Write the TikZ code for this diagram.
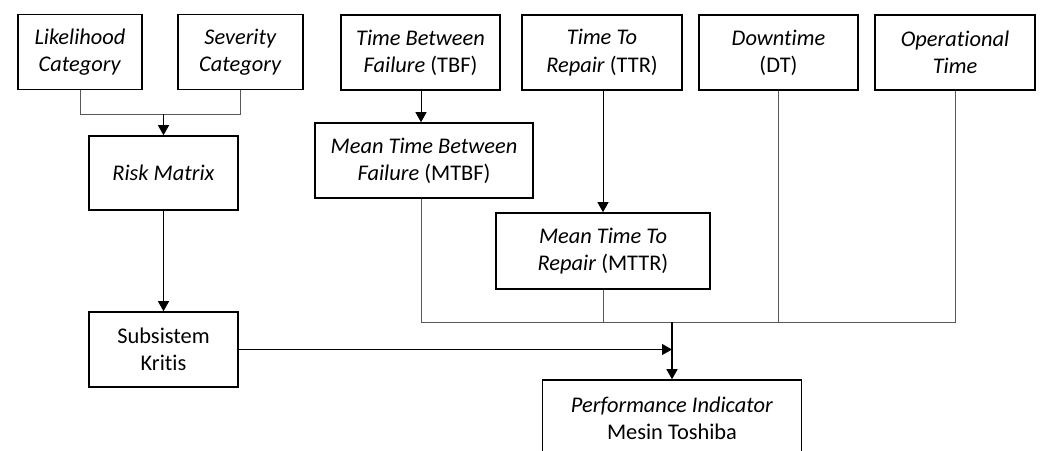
\documentclass[tikz,border=0pt]{standalone}
\usepackage{fontspec}
\setmainfont{Carlito}[Ligatures={NoCommon}]
\usetikzlibrary{arrows.meta}

\tikzset{
  blok/.style={draw, line width=0.8pt, align=center, inner sep=2pt, font=\fontsize{11.2}{13.6}\selectfont},
  garis/.style={draw=black!65, line width=0.5pt},
  panah/.style={garis, -{Triangle[width=5.5pt,length=5pt]}, draw=black},
}

\begin{document}
\begin{tikzpicture}[x=0.5pt, y=-0.5pt]
		\clip (0,0) rectangle (1058,450);
		\fill[white] (0,0) rectangle (1058,450);

		\node[blok, minimum width=62pt, minimum height=37.5pt] (lik)at(80,52) {\textit{Likelihood}\\\textit{Category}};
		\node[blok, minimum width=62.5pt, minimum height=37.5pt] (sev)at(240.5,52) {\textit{Severity}\\\textit{Category}};
		\node[blok, minimum width=79.5pt, minimum height=37.5pt] (tbf)at(420.5,52.5) {\textit{Time Between}\\\textit{Failure} (TBF)};
		\node[blok, minimum width=80pt, minimum height=37.5pt] (ttr)at(602,52.5) {\textit{Time To}\\\textit{Repair} (TTR)};
		\node[blok, minimum width=79.5pt, minimum height=37.5pt] (dt)at(778.5,52.5) {\textit{Downtime}\\(DT)};
		\node[blok, minimum width=80pt, minimum height=37.5pt] (op)at(955,52.5) {\textit{Operational}\\\textit{Time}};

		\node[blok, minimum width=74.5pt, minimum height=37pt] (risk)at(163.5,173) {\textit{Risk Matrix}};
		\node[blok, minimum width=109pt, minimum height=37.5pt] (mtbf)at(424,160.5) {\textit{Mean Time Between}\\\textit{Failure} (MTBF)};
		\node[blok, minimum width=107pt, minimum height=38pt] (mttr)at(603,251) {\textit{Mean Time To}\\\textit{Repair} (MTTR)};
		\node[blok, minimum width=74.5pt, minimum height=37.5pt] (sub)at(163.5,349.5) {Subsistem\\Kritis};
		\node[blok, minimum width=129.5pt, minimum height=38pt] (perf)at(672,418) {\textit{Performance Indicator}\\Mesin Toshiba};

		\coordinate (j1) at (163.5,114);
		\coordinate (j2) at (672,322);

		\draw[garis] (lik.south) |- (j1);
		\draw[garis] (sev.south) |- (j1);
		\draw[panah] (j1) -- (risk.north);
		\draw[panah] (risk.south) -- (sub.north);
		\draw[panah] (tbf.south -| 421,0) -- (mtbf.north -| 421,0);
		\draw[panah] (ttr.south -| 603,0) -- (mttr.north);

		\draw[garis] (mtbf.south -| 421,0) |- (j2);
		\draw[garis] (mttr.south) |- (j2);
		\draw[garis] (dt.south) |- (j2);
		\draw[garis] (op.south) |- (j2);
		\draw[panah] (sub.east) -- (sub.east -| j2);
		\draw[panah, line width=0.8pt] (j2) -- (perf.north);
\end{tikzpicture}
\end{document}
